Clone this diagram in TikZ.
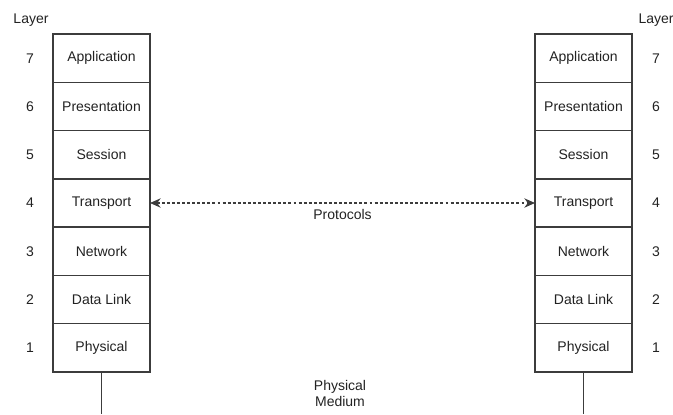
\documentclass[tikz,border=0pt]{standalone}
\usepackage{fontspec}
\setmainfont{Liberation Sans}
\usepackage{xcolor}
\usepackage{tikz}
\usetikzlibrary{positioning,arrows.meta}

\definecolor{linegray}{HTML}{3C3C3C}
\definecolor{textgray}{HTML}{222222}

\tikzset{
  layerbox/.style={draw=linegray, line width=1pt, minimum width=72.75pt,
    minimum height=36.2pt, outer sep=0pt, inner sep=0pt, text=textgray,
    font=\fontsize{10.5}{12}\selectfont},
  laynum/.style={text=textgray, font=\fontsize{10.5}{12}\selectfont},
  conn/.style={draw=linegray, line width=1pt}
}

\begin{document}
\begin{tikzpicture}[x=0.75pt, y=-0.75pt]
    \useasboundingbox (0,0) rectangle (673,414);

    % left stack
    \node[layerbox] (l7) at (101.5,58.2) {Application};
    \node[layerbox, below=0pt of l7] (l6) {Presentation};
    \node[layerbox, below=0pt of l6] (l5) {Session};
    \node[layerbox, below=0pt of l5] (l4) {Transport};
    \node[layerbox, below=0pt of l4] (l3) {Network};
    \node[layerbox, below=0pt of l3] (l2) {Data Link};
    \node[layerbox, below=0pt of l2] (l1) {Physical};

    % right stack
    \node[layerbox] (r7) at (583.5,58.2) {Application};
    \node[layerbox, below=0pt of r7] (r6) {Presentation};
    \node[layerbox, below=0pt of r6] (r5) {Session};
    \node[layerbox, below=0pt of r5] (r4) {Transport};
    \node[layerbox, below=0pt of r4] (r3) {Network};
    \node[layerbox, below=0pt of r3] (r2) {Data Link};
    \node[layerbox, below=0pt of r2] (r1) {Physical};

    % layer numbers
    \node[laynum] (llayer) at (31,20) {Layer};
    \node[laynum] (rlayer) at (656,20) {Layer};
    \node[laynum] (ln7) at (30,0 |- l7) {7};
    \node[laynum] (ln6) at (30,0 |- l6) {6};
    \node[laynum] (ln5) at (30,0 |- l5) {5};
    \node[laynum] (ln4) at (30,0 |- l4) {4};
    \node[laynum] (ln3) at (30,0 |- l3) {3};
    \node[laynum] (ln2) at (30,0 |- l2) {2};
    \node[laynum] (ln1) at (30,0 |- l1) {1};
    \node[laynum] (rn7) at (656,0 |- r7) {7};
    \node[laynum] (rn6) at (656,0 |- r6) {6};
    \node[laynum] (rn5) at (656,0 |- r5) {5};
    \node[laynum] (rn4) at (656,0 |- r4) {4};
    \node[laynum] (rn3) at (656,0 |- r3) {3};
    \node[laynum] (rn2) at (656,0 |- r2) {2};
    \node[laynum] (rn1) at (656,0 |- r1) {1};

    % protocols
    \draw[conn, dash pattern=on 2.2pt off 1.6pt,
          {Stealth[length=8pt,width=7pt]}-{Stealth[length=8pt,width=7pt]}]
      (l4.east) -- node[laynum, below=1pt] (proto) {Protocols} (r4.west);

    % physical medium
    \coordinate (lend) at (l1.south |- 0,414);
    \coordinate (rend) at (r1.south |- 0,414);
    \draw[conn] (l1.south) -- (lend);
    \draw[conn] (r1.south) -- (rend);
    \node[laynum, align=center] (medium) at (340,393) {Physical\\Medium};
  \end{tikzpicture}
\end{document}
